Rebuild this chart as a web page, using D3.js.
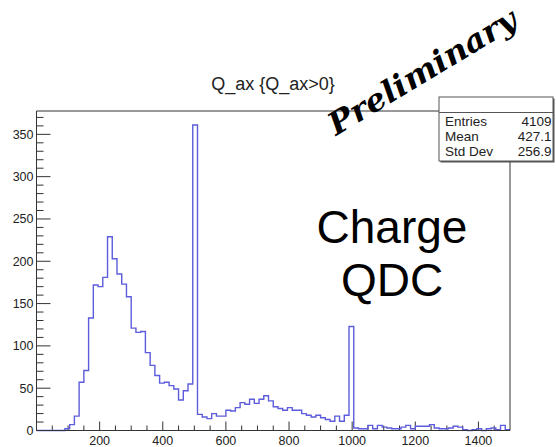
<!DOCTYPE html>
<html>
<head>
<meta charset="utf-8">
<script src="https://cdn.jsdelivr.net/npm/d3@7"></script>
<style>
  html, body { margin: 0; padding: 0; background: #fff; }
  svg { display: block; font-family: "Liberation Sans", Arial, sans-serif; }
</style>
</head>
<body>
<div id="chart"></div>
<script>
// histogram Q_ax, 100 bins from 0 to 1500
const xMin = 0;
const xMax = 1500;
const binWidth = 15;
const counts = [
  0, 0, 0, 0, 0, 0, 2, 7, 17, 57,
  71, 133, 172, 170, 181, 229, 203, 185, 173, 158,
  121, 116, 117, 92, 77, 65, 56, 57, 53, 49,
  36, 47, 55, 361, 19, 16, 14, 20, 17, 17,
  24, 23, 27, 33, 31, 37, 32, 37, 41, 35,
  28, 26, 24, 27, 24, 24, 20, 18, 16, 18,
  15, 13, 11, 17, 11, 18, 123, 3, 2, 2,
  6, 2, 6, 4, 3, 2, 2, 4, 6, 2,
  5, 5, 5, 7, 3, 2, 2, 3, 5, 4,
  1, 0, 1, 2, 0, 2, 3, 1, 6, 1
];
const xTicks = [200, 400, 600, 800, 1000, 1200, 1400];
const yTicks = [0, 50, 100, 150, 200, 250, 300, 350];
const statNames = ["Entries", "Mean", "Std Dev"];
const statValues = ["4109", "427.1", "256.9"];
const title = "Q_ax {Q_ax>0}";
const noteLines = ["Charge", "QDC"];

const width = 556;
const height = 447;
const frame = { left: 36.5, right: 510, top: 111, bottom: 430.5 };

const svg = d3
  .select("#chart")
  .append("svg")
  .attr("width", width)
  .attr("height", height);

const x = d3.scaleLinear().domain([xMin, xMax]).range([frame.left, frame.right]);
const y = d3.scaleLinear().domain([0, 377.6]).range([frame.bottom, frame.top]);

const axisColor = "#333";

// minor + major ticks on y
const yMinor = d3.range(0, 371, 10);
svg
  .append("g")
  .selectAll("line")
  .data(yMinor)
  .join("line")
  .attr("x1", frame.left)
  .attr("x2", (d) => frame.left + (d % 50 === 0 ? 14 : 7))
  .attr("y1", (d) => y(d))
  .attr("y2", (d) => y(d))
  .attr("stroke", axisColor)
  .attr("stroke-width", 1);

svg
  .append("g")
  .selectAll("text")
  .data(yTicks)
  .join("text")
  .attr("x", frame.left - 3)
  .attr("y", (d) => y(d))
  .attr("dy", "0.36em")
  .attr("text-anchor", "end")
  .attr("font-size", 12.5)
  .attr("fill", "#222")
  .text((d) => d);

// minor + major ticks on x
const xMinor = d3.range(50, 1500, 50);
svg
  .append("g")
  .selectAll("line")
  .data(xMinor)
  .join("line")
  .attr("x1", (d) => x(d))
  .attr("x2", (d) => x(d))
  .attr("y1", frame.bottom)
  .attr("y2", (d) => frame.bottom - (d % 200 === 0 ? 9 : 5))
  .attr("stroke", axisColor)
  .attr("stroke-width", 1);

svg
  .append("g")
  .selectAll("text")
  .data(xTicks)
  .join("text")
  .attr("x", (d) => x(d))
  .attr("y", 444.5)
  .attr("text-anchor", "middle")
  .attr("font-size", 12.5)
  .attr("fill", "#222")
  .text((d) => d);

// histogram outline
const steps = [];
counts.forEach((c, i) => {
  steps.push([xMin + i * binWidth, c]);
  steps.push([xMin + (i + 1) * binWidth, c]);
});
const line = d3
  .line()
  .x((d) => x(d[0]))
  .y((d) => y(d[1]));

svg
  .append("path")
  .datum(steps)
  .attr("d", line)
  .attr("fill", "none")
  .attr("stroke", "#5c5cdc")
  .attr("stroke-width", 1.4);

// stats box geometry
const box = { x: 439, y: 97, w: 114, h: 64 };

// frame
svg
  .append("path")
  .attr(
    "d",
    `M${box.x},${frame.top} L${frame.left},${frame.top} L${frame.left},${frame.bottom} ` +
      `L${frame.right},${frame.bottom} L${frame.right},${box.y + box.h}`
  )
  .attr("fill", "none")
  .attr("stroke", axisColor)
  .attr("stroke-width", 1);

// title
svg
  .append("text")
  .attr("x", 273)
  .attr("y", 90)
  .attr("text-anchor", "middle")
  .attr("font-size", 18)
  .attr("fill", "#222")
  .text(title);

// stats box with shadow
svg
  .append("rect")
  .attr("x", box.x + 1.5)
  .attr("y", box.y + 1.5)
  .attr("width", box.w)
  .attr("height", box.h)
  .attr("fill", "#555");
svg
  .append("rect")
  .attr("x", box.x)
  .attr("y", box.y)
  .attr("width", box.w)
  .attr("height", box.h)
  .attr("fill", "#fff")
  .attr("stroke", "#555")
  .attr("stroke-width", 1);
svg
  .append("line")
  .attr("x1", box.x)
  .attr("x2", box.x + box.w)
  .attr("y1", 112.5)
  .attr("y2", 112.5)
  .attr("stroke", "#555");

const rows = svg.append("g").attr("font-size", 13.5).attr("fill", "#222");
rows
  .selectAll("text.name")
  .data(statNames)
  .join("text")
  .attr("class", "name")
  .attr("x", box.x + 6)
  .attr("y", (d, i) => 125.5 + i * 15)
  .text((d) => d);
rows
  .selectAll("text.value")
  .data(statValues)
  .join("text")
  .attr("class", "value")
  .attr("x", box.x + box.w - 1.5)
  .attr("y", (d, i) => 125.5 + i * 15)
  .attr("text-anchor", "end")
  .text((d) => d);

// big annotation
svg
  .append("g")
  .selectAll("text")
  .data(noteLines)
  .join("text")
  .attr("x", 392)
  .attr("y", (d, i) => 243 + i * 53)
  .attr("text-anchor", "middle")
  .attr("font-size", 46)
  .attr("fill", "#000")
  .text((d) => d);

// Preliminary stamp
svg
  .append("text")
  .attr("transform", "translate(336,136) rotate(-31)")
  .attr("font-family", "'DejaVu Serif', serif")
  .attr("font-style", "italic")
  .attr("font-weight", "bold")
  .attr("font-size", 31)
  .attr("textLength", 214)
  .attr("lengthAdjust", "spacingAndGlyphs")
  .attr("fill", "#000")
  .text("Preliminary");
</script>
</body>
</html>
